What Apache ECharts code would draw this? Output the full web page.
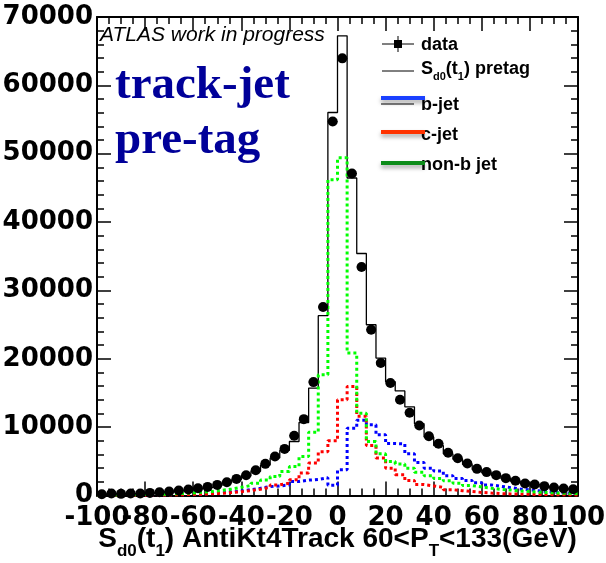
<!DOCTYPE html>
<html><head><meta charset="utf-8">
<script src="https://cdn.jsdelivr.net/npm/echarts@6/dist/echarts.min.js"></script>
<style>html,body{margin:0;padding:0;background:#fff}#c{width:606px;height:563px}</style>
</head><body><div id="c"></div>
<script>
// Histogram binning: 50 bins of width 4 from -100 to 100
const binLow = -100;
const binWidth = 4;
const xTicks = [-100, -80, -60, -40, -20, 0, 20, 40, 60, 80, 100];
const yTicks = [0, 10000, 20000, 30000, 40000, 50000, 60000, 70000];

// data (black points)
const dataCounts = [190, 280, 240, 280, 290, 380, 480, 580, 720, 870,
  1060, 1260, 1550, 1940, 2430, 2970, 3700, 4630, 5700, 6820,
  8730, 11170, 16590, 27570, 54700, 63950, 47100, 33430, 24260, 19380,
  16450, 14010, 12110, 10250, 8660, 7570, 6250, 5460, 4690, 3900,
  3420, 2980, 2540, 2150, 1760, 1610, 1370, 1170, 1030, 920];
// S_d0(t1) pretag MC (black line)
const mcPretag = [180, 260, 240, 270, 280, 360, 450, 560, 690, 840,
  1010, 1200, 1480, 1850, 2320, 2850, 3550, 4450, 5500, 6600,
  7900, 10680, 15710, 26300, 56030, 67250, 46450, 35400, 24980, 20100,
  16650, 15300, 12970, 10500, 8550, 7300, 6100, 5300, 4550, 3800,
  3300, 2900, 2450, 2080, 1720, 1560, 1330, 1140, 1000, 890];
// b-jet (blue)
const bJet = [35, 40, 50, 60, 70, 80, 100, 130, 160, 200,
  250, 320, 400, 500, 650, 850, 1070, 1300, 1400, 1550,
  2050, 2250, 2350, 2600, 1500, 3750, 9850, 11000, 10340, 8870,
  7600, 7550, 6100, 4820, 4000, 3600, 2900, 2500, 2200, 1850,
  1550, 1350, 1150, 950, 820, 680, 560, 430, 340, 260];
// c-jet (red)
const cJet = [25, 30, 35, 40, 50, 60, 80, 100, 120, 160,
  200, 260, 330, 430, 560, 720, 920, 1210, 1550, 1800,
  2300, 3300, 4750, 6400, 8000, 14000, 15950, 11600, 7300, 5500,
  4000, 3050, 2200, 1600, 1400, 1200, 850, 700, 580, 450,
  360, 280, 230, 200, 180, 150, 130, 120, 100, 90];
// non-b jet (green)
const nonBJet = [80, 90, 100, 110, 130, 150, 180, 230, 300, 380,
  480, 600, 760, 950, 1200, 1450, 1800, 2280, 2770, 3500,
  4230, 5700, 9240, 17660, 46200, 49400, 20830, 12050, 7900, 6090,
  4960, 4600, 4000, 3400, 2900, 2500, 2150, 1800, 1450, 1250,
  1070, 900, 800, 670, 570, 480, 420, 350, 300, 260];

function stepData(vals) {
  const out = vals.map((v, i) => [binLow + i * binWidth, v]);
  out.push([binLow + vals.length * binWidth, vals[vals.length - 1]]);
  return out;
}
function pointData(vals) {
  return vals.map((v, i) => [binLow + (i + 0.5) * binWidth, v]);
}

const tickFont = { fontFamily: 'DejaVu Sans', fontWeight: 'bold', fontSize: 26, color: '#000' };
const legFont = 'Liberation Sans';
const xMin = xTicks[0], xMax = xTicks[xTicks.length - 1], xStep = xTicks[1] - xTicks[0];
const yMin = yTicks[0], yMax = yTicks[yTicks.length - 1], yStep = yTicks[1] - yTicks[0];

function axisCommon(extra) {
  return Object.assign({
    type: 'value',
    axisLine: { show: true, onZero: false, lineStyle: { color: '#000', width: 2 } },
    axisTick: { show: true, inside: true, length: 14, lineStyle: { color: '#000', width: 1.5 } },
    splitLine: { show: false },
    minorSplitLine: { show: false }
  }, extra);
}
const xMinor = { show: true, splitNumber: 4, length: 7, lineStyle: { color: '#000', width: 1.5 } };
const yMinor = { show: true, splitNumber: 5, length: 7, lineStyle: { color: '#000', width: 1.5 } };

const chart = echarts.init(document.getElementById('c'), null, { renderer: 'canvas' });
const option = {
  animation: false,
  backgroundColor: '#fff',
  grid: { left: 97, right: 28, top: 17, bottom: 67.5, containLabel: false, outerBoundsMode: 'none' },
  xAxis: [
    axisCommon({
      position: 'bottom',
      min: xMin, max: xMax, interval: xStep,
      minorTick: xMinor,
      axisLabel: Object.assign({ margin: 10, interval: 0, hideOverlap: false, showMinLabel: false, showMaxLabel: true,
        formatter: v => String(v) }, tickFont),
      name: '{m|S}{s|d0}{m|(t}{s|1}{m|) AntiKt4Track 60<P}{s|T}{m|<133(GeV)}',
      nameLocation: 'middle',
      nameGap: 24,
      nameMoveOverlap: false,
      nameTextStyle: {
        rich: {
          m: { fontFamily: legFont, fontWeight: 'bold', fontSize: 28, color: '#000', lineHeight: 40, verticalAlign: 'middle' },
          s: { fontFamily: legFont, fontWeight: 'bold', fontSize: 17, color: '#000', lineHeight: 40, verticalAlign: 'bottom' }
        }
      }
    }),
    axisCommon({
      position: 'top',
      min: xMin, max: xMax, interval: xStep,
      minorTick: xMinor,
      axisLabel: { show: false }
    }),
    {
      type: 'value', position: 'bottom', min: xMin, max: xMax, interval: xStep,
      axisLine: { show: false }, axisTick: { show: false }, minorTick: { show: false }, splitLine: { show: false },
      axisLabel: Object.assign({ margin: 10, interval: 0, showMinLabel: true, showMaxLabel: false,
        formatter: v => (v === xMin ? String(v) : '') }, tickFont)
    }
  ],
  yAxis: [
    axisCommon({
      position: 'left',
      min: yMin, max: yMax, interval: yStep,
      minorTick: yMinor,
      axisLabel: Object.assign({ margin: 4, interval: 0, hideOverlap: false, showMinLabel: true, showMaxLabel: true,
        formatter: v => String(v) }, tickFont)
    }),
    axisCommon({
      position: 'right',
      min: yMin, max: yMax, interval: yStep,
      minorTick: yMinor,
      axisLabel: { show: false }
    })
  ],
  series: [
    { name: 'S_d0(t1) pretag', type: 'line', step: 'end', symbol: 'none', data: stepData(mcPretag),
      lineStyle: { color: '#000', width: 1.3 }, z: 2 },
    { name: 'b-jet', type: 'line', step: 'end', symbol: 'none', data: stepData(bJet),
      lineStyle: { color: '#0000ff', width: 3, type: [3, 3] }, z: 3 },
    { name: 'c-jet', type: 'line', step: 'end', symbol: 'none', data: stepData(cJet),
      lineStyle: { color: '#ff0000', width: 3, type: [3, 3] }, z: 3 },
    { name: 'non-b jet', type: 'line', step: 'end', symbol: 'none', data: stepData(nonBJet),
      lineStyle: { color: '#00ff00', width: 3, type: [3, 3] }, z: 4 },
    { name: 'data err', type: 'custom', data: pointData(dataCounts), z: 5,
      renderItem: function (params, api) {
        const x = api.value(0), y = api.value(1);
        const p1 = api.coord([x - binWidth / 2, y]);
        const p2 = api.coord([x + binWidth / 2, y]);
        return { type: 'line', shape: { x1: p1[0], y1: p1[1], x2: p2[0], y2: p2[1] },
          style: { stroke: '#000', lineWidth: 1.2 } };
      } },
    { name: 'data', type: 'scatter', data: pointData(dataCounts), symbol: 'circle', symbolSize: 10,
      itemStyle: { color: '#000', opacity: 1 }, z: 6 }
  ],
  graphic: [
    { type: 'text', left: 100, top: 25, z: 10,
      style: { text: 'ATLAS work in progress', fontFamily: legFont, fontStyle: 'italic', fontSize: 21, fill: '#000' } },
    { type: 'text', left: 115, top: 62, z: 10,
      style: { text: 'track-jet', fontFamily: 'Liberation Serif', fontWeight: 'bold', fontSize: 47, fill: '#000099' } },
    { type: 'text', left: 115, top: 117, z: 10,
      style: { text: 'pre-tag', fontFamily: 'Liberation Serif', fontWeight: 'bold', fontSize: 47, fill: '#000099' } },
    // legend: data
    { type: 'line', z: 10, shape: { x1: 382, y1: 44, x2: 414, y2: 44 }, style: { stroke: '#000', lineWidth: 1 } },
    { type: 'line', z: 10, shape: { x1: 398, y1: 36, x2: 398, y2: 52 }, style: { stroke: '#000', lineWidth: 1 } },
    { type: 'rect', z: 10, shape: { x: 394, y: 40, width: 8, height: 8 }, style: { fill: '#000' } },
    { type: 'text', z: 10, left: 421, top: 36,
      style: { text: 'data', fontFamily: legFont, fontWeight: 'bold', fontSize: 18, fill: '#000' } },
    // legend: pretag
    { type: 'line', z: 10, shape: { x1: 382, y1: 71, x2: 414, y2: 71 }, style: { stroke: '#000', lineWidth: 1 } },
    { type: 'text', z: 10, left: 421, top: 60,
      style: { text: '{m|S}{s|d0}{m|(t}{s|1}{m|) pretag}',
        rich: {
          m: { fontFamily: legFont, fontWeight: 'bold', fontSize: 18, fill: '#000', lineHeight: 26, verticalAlign: 'middle' },
          s: { fontFamily: legFont, fontWeight: 'bold', fontSize: 11, fill: '#000', lineHeight: 26, verticalAlign: 'bottom' }
        } } },
    // legend: b-jet
    { type: 'line', z: 10, shape: { x1: 381, y1: 104, x2: 414, y2: 104 }, style: { stroke: '#000', lineWidth: 1 } },
    { type: 'line', z: 11, shape: { x1: 381, y1: 98, x2: 425, y2: 98 },
      style: { stroke: '#1a40ff', lineWidth: 4, shadowBlur: 4, shadowOffsetY: 3, shadowColor: 'rgba(0,0,0,0.35)' } },
    { type: 'text', z: 10, left: 421, top: 96,
      style: { text: 'b-jet', fontFamily: legFont, fontWeight: 'bold', fontSize: 18, fill: '#000' } },
    // legend: c-jet
    { type: 'line', z: 11, shape: { x1: 381, y1: 132, x2: 425, y2: 132 },
      style: { stroke: '#ff3300', lineWidth: 4, shadowBlur: 4, shadowOffsetY: 3, shadowColor: 'rgba(0,0,0,0.35)' } },
    { type: 'text', z: 10, left: 421, top: 126,
      style: { text: 'c-jet', fontFamily: legFont, fontWeight: 'bold', fontSize: 18, fill: '#000' } },
    // legend: non-b jet
    { type: 'line', z: 11, shape: { x1: 381, y1: 163, x2: 425, y2: 163 },
      style: { stroke: '#0d8c1a', lineWidth: 4, shadowBlur: 4, shadowOffsetY: 3, shadowColor: 'rgba(0,0,0,0.35)' } },
    { type: 'text', z: 10, left: 421, top: 156,
      style: { text: 'non-b jet', fontFamily: legFont, fontWeight: 'bold', fontSize: 18, fill: '#000' } }
  ]
};
chart.setOption(option);
</script>
</body></html>
